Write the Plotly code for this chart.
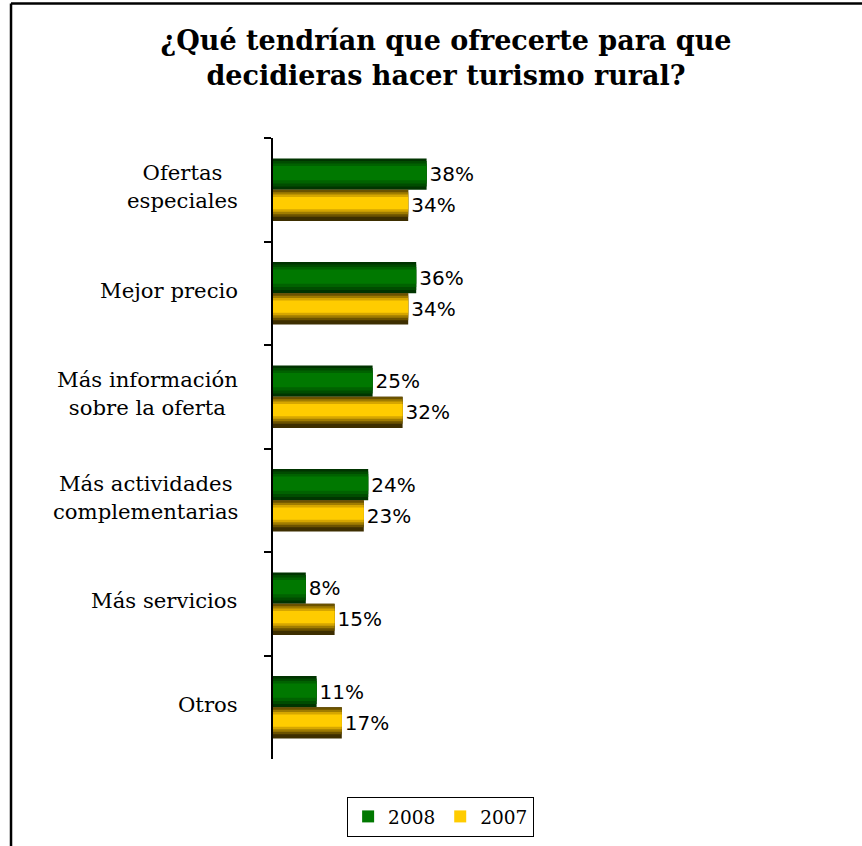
import plotly.graph_objects as go

categories = ['Ofertas<br>especiales', 'Mejor precio', 'Más información<br>sobre la oferta',
              'Más actividades<br>complementarias', 'Más servicios', 'Otros']
keys = ['c1', 'c2', 'c3', 'c4', 'c5', 'c6']
values_2008 = [38.4, 35.8, 24.9, 23.8, 8.2, 10.9]
values_2007 = [33.8, 33.8, 32.4, 22.7, 15.4, 17.2]
labels_2008 = ['38%', '36%', '25%', '24%', '8%', '11%']
labels_2007 = ['34%', '34%', '32%', '23%', '15%', '17%']

BAR_W = 0.302

# (top, bottom, colour) stripes inside each bar to fake the gradient
green_layers = [(0.0, 1.0, '#003400'), (0.08, 0.9, '#004c00'), (0.16, 0.8, '#006200'),
                (0.24, 0.7, '#007800')]
yellow_layers = [(0.0, 1.0, '#3d2e00'), (0.0, 0.86, '#6b5200'), (0.08, 0.78, '#a07c00'),
                 (0.15, 0.7, '#d6a600'), (0.23, 0.62, '#ffcc00')]

fig = go.Figure()

series = [('2008', values_2008, labels_2008, green_layers, -BAR_W, 3),
          ('2007', values_2007, labels_2007, yellow_layers, 0.0, 4)]

for name, vals, labs, layers, base_off, legend_layer in series:
    for i, (t, b, col) in enumerate(layers):
        fig.add_trace(go.Bar(
            y=keys, x=vals, orientation='h', name=name,
            offset=base_off + t * BAR_W, width=(b - t) * BAR_W,
            marker=dict(color=col, line=dict(width=0)),
            text=labs if i == 0 else None,
            textposition='outside' if i == 0 else 'none',
            textfont=dict(family='DejaVu Sans', size=20, color='black'),
            cliponaxis=False,
            showlegend=(i == legend_layer),
            hoverinfo='skip',
        ))

for k, c in zip(keys, categories):
    fig.add_annotation(x=-0.057, xref='paper', y=k, yref='y', text=c, yshift=3,
                       xanchor='right', align='center', showarrow=False,
                       font=dict(family='DejaVu Serif', size=21.2, color='black'))

# outer frame (clipped on right and bottom like the original)
fig.add_shape(type='line', xref='paper', yref='paper', x0=-0.4517, x1=1.02,
              y0=1.2167, y1=1.2167, line=dict(color='black', width=2.5))
fig.add_shape(type='line', xref='paper', yref='paper', x0=-0.4517, x1=-0.4517,
              y0=1.2167, y1=-0.14, line=dict(color='black', width=2.5))

fig.update_layout(
    width=862, height=846,
    margin=dict(l=273, r=9, t=138, b=85),
    paper_bgcolor='white', plot_bgcolor='white',
    barmode='overlay',
    title=dict(text='<b>¿Qué tendrían que ofrecerte para que<br>decidieras hacer turismo rural?</b>',
               x=0.5174, xref='container', xanchor='center',
               y=1 - 50 / 846, yref='container', yanchor='top',
               font=dict(family='DejaVu Serif', size=27, color='black')),
    legend=dict(orientation='h', x=0.289, xanchor='center', y=-0.061, yanchor='top',
                bordercolor='black', borderwidth=1,
                font=dict(family='DejaVu Serif', size=18.5, color='black'),
                traceorder='normal'),
)
fig.update_xaxes(range=[0, 145], visible=False)
fig.update_yaxes(type='category', autorange='reversed', showticklabels=False,
                 showline=True, linecolor='black', linewidth=2,
                 ticks='outside', tickson='boundaries', ticklen=7, tickwidth=1.5,
                 tickcolor='black', showgrid=False, zeroline=False)

fig.write_html("out.html", config={'displayModeBar': False},
               post_script="document.body.style.margin='0';")
